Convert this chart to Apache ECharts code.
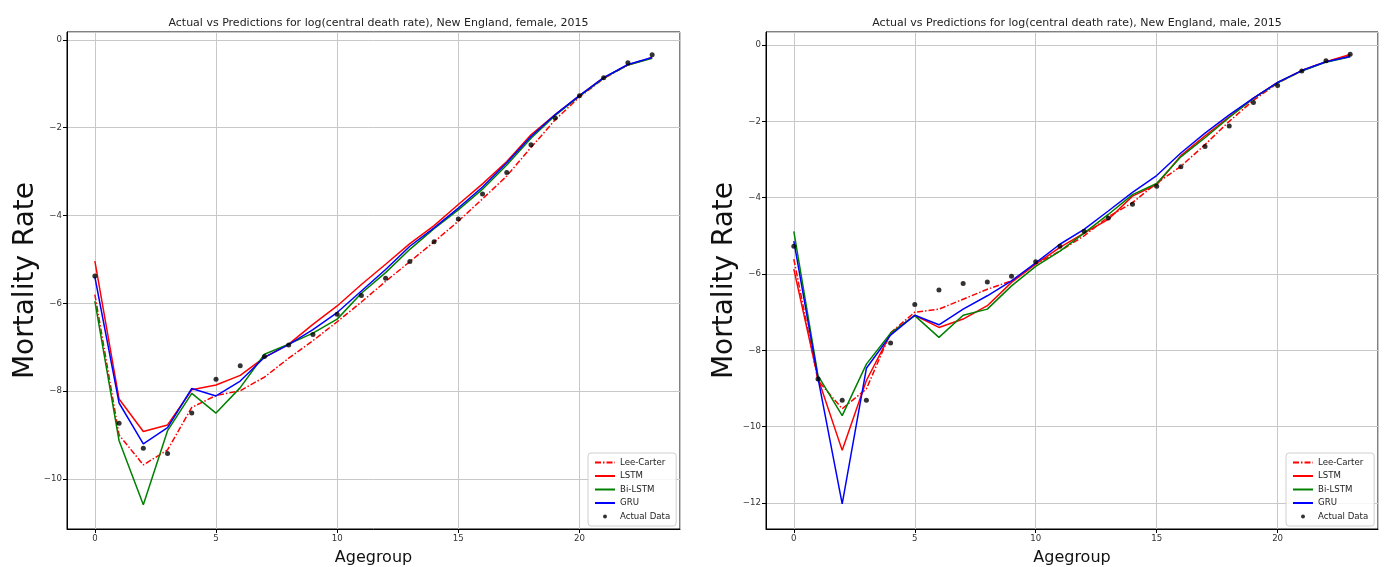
<!DOCTYPE html>
<html>
<head>
<meta charset="utf-8">
<script src="https://cdn.jsdelivr.net/npm/echarts@6/dist/echarts.min.js"></script>
<style>
  html, body { margin: 0; padding: 0; background: #fff; }
  #chart { width: 1386px; height: 567px; }
</style>
</head>
<body>
<div id="chart"></div>
<script>
// age groups 0..23
const ages = [0, 1, 2, 3, 4, 5, 6, 7, 8, 9, 10, 11, 12, 13, 14, 15, 16, 17, 18, 19, 20, 21, 22, 23]

// female
const femaleActual = [-5.38, -8.73, -9.30, -9.42, -8.50, -7.73, -7.42, -7.21, -6.95, -6.71, -6.25, -5.82, -5.43, -5.05, -4.60, -4.08, -3.51, -3.02, -2.39, -1.78, -1.27, -0.86, -0.52, -0.34]
const femaleLeeCarter = [-5.80, -9.00, -9.68, -9.34, -8.37, -8.10, -7.99, -7.68, -7.25, -6.85, -6.42, -5.97, -5.50, -5.05, -4.60, -4.13, -3.62, -3.10, -2.45, -1.82, -1.30, -0.88, -0.57, -0.40]
const femaleLSTM = [-5.04, -8.18, -8.92, -8.77, -7.97, -7.86, -7.64, -7.23, -6.93, -6.48, -6.06, -5.57, -5.11, -4.64, -4.23, -3.75, -3.28, -2.77, -2.16, -1.70, -1.27, -0.86, -0.57, -0.41]
const femaleBiLSTM = [-5.95, -9.13, -10.59, -8.90, -8.05, -8.50, -7.92, -7.16, -6.93, -6.68, -6.36, -5.77, -5.30, -4.77, -4.30, -3.87, -3.40, -2.85, -2.24, -1.72, -1.28, -0.87, -0.57, -0.42]
const femaleGRU = [-5.40, -8.27, -9.20, -8.83, -7.94, -8.11, -7.77, -7.23, -6.94, -6.60, -6.21, -5.72, -5.23, -4.70, -4.28, -3.83, -3.35, -2.80, -2.20, -1.70, -1.27, -0.86, -0.56, -0.40]

// male
const maleActual = [-5.27, -8.75, -9.31, -9.31, -7.81, -6.80, -6.42, -6.25, -6.21, -6.06, -5.68, -5.27, -4.88, -4.53, -4.17, -3.70, -3.19, -2.66, -2.12, -1.51, -1.06, -0.68, -0.41, -0.24]
const maleLeeCarter = [-5.61, -8.79, -9.53, -9.01, -7.54, -7.00, -6.92, -6.66, -6.40, -6.18, -5.74, -5.40, -5.00, -4.50, -4.13, -3.62, -3.18, -2.61, -2.00, -1.45, -1.00, -0.67, -0.44, -0.27]
const maleLSTM = [-5.87, -8.73, -10.62, -8.79, -7.57, -7.08, -7.40, -7.18, -6.83, -6.22, -5.74, -5.30, -4.93, -4.57, -3.96, -3.66, -2.90, -2.38, -1.88, -1.39, -0.98, -0.67, -0.44, -0.25]
const maleBiLSTM = [-4.88, -8.66, -9.71, -8.36, -7.55, -7.09, -7.66, -7.08, -6.92, -6.31, -5.80, -5.40, -4.93, -4.44, -3.92, -3.63, -2.93, -2.43, -1.90, -1.40, -0.99, -0.68, -0.45, -0.31]
const maleGRU = [-5.14, -8.73, -12.02, -8.47, -7.60, -7.08, -7.33, -6.92, -6.57, -6.18, -5.71, -5.22, -4.83, -4.35, -3.86, -3.42, -2.83, -2.31, -1.83, -1.39, -0.98, -0.67, -0.44, -0.30]

const titles = [
  'Actual vs Predictions for log(central death rate), New England, female, 2015',
  'Actual vs Predictions for log(central death rate), New England, male, 2015'
]
const seriesNames = ['Lee-Carter', 'LSTM', 'Bi-LSTM', 'GRU', 'Actual Data']

const FONT = 'DejaVu Sans'
const pair = (ys) => ages.map((a, i) => [a, ys[i]])
const minus = (v) => String(v).replace('-', '\u2212')
// small dot inside a 20x9 box, so the legend marker stays small
const dotIcon = 'path://M0,0M20,9M8,4.5a2,2 0 1,0 4,0a2,2 0 1,0 -4,0z'

const panels = [
  { left: 67, width: 613, yMin: -11.14, yMax: 0.18, nameGap: 20, data: [femaleLeeCarter, femaleLSTM, femaleBiLSTM, femaleGRU, femaleActual] },
  { left: 766, width: 612, yMin: -12.68, yMax: 0.34, nameGap: 24, data: [maleLeeCarter, maleLSTM, maleBiLSTM, maleGRU, maleActual] }
]

const grids = [], xAxes = [], yAxes = [], series = [], legends = [], titleList = []

panels.forEach((p, k) => {
  grids.push({
    left: p.left, top: 32, width: p.width, height: 497,
    outerBoundsMode: 'none', containLabel: false,
    show: true, borderColor: '#000', borderWidth: 1, backgroundColor: '#fff'
  })
  titleList.push({
    text: titles[k], left: p.left + p.width / 2, top: 13, textAlign: 'center',
    textStyle: { fontFamily: FONT, fontSize: 11, fontWeight: 'normal', color: '#222' }
  })
  xAxes.push({
    gridIndex: k, type: 'value', min: -1.15, max: 24.15, splitNumber: 5,
    name: 'Agegroup', nameLocation: 'middle', nameGap: 21,
    nameTextStyle: { fontFamily: FONT, fontSize: 16, color: '#111' },
    axisLine: { show: true, onZero: false, lineStyle: { color: '#000' } },
    axisTick: { show: true, length: 4, lineStyle: { color: '#000' } },
    axisLabel: { fontFamily: FONT, fontSize: 8.6, color: '#333', margin: 5, showMinLabel: false, showMaxLabel: false },
    splitLine: { show: true, lineStyle: { color: '#c8c8c8', width: 1 } }
  })
  yAxes.push({
    gridIndex: k, type: 'value', min: p.yMin, max: p.yMax, splitNumber: 6,
    name: 'Mortality Rate', nameLocation: 'middle', nameGap: p.nameGap,
    nameTextStyle: { fontFamily: FONT, fontSize: 28, color: '#111' },
    axisLine: { show: true, onZero: false, lineStyle: { color: '#000' } },
    axisTick: { show: true, length: 4, lineStyle: { color: '#000' } },
    axisLabel: { fontFamily: FONT, fontSize: 8.6, color: '#333', margin: 5, showMinLabel: false, showMaxLabel: false, formatter: minus },
    splitLine: { show: true, lineStyle: { color: '#c8c8c8', width: 1 } }
  })

  const styles = [
    { color: '#ff0000', type: [6, 2, 1.5, 2] },
    { color: '#ff0000', type: 'solid' },
    { color: '#008000', type: 'solid' },
    { color: '#0000ff', type: 'solid' }
  ]
  styles.forEach((s, j) => {
    series.push({
      name: seriesNames[j], type: 'line', xAxisIndex: k, yAxisIndex: k,
      data: pair(p.data[j]), symbol: 'none', z: 2 + j,
      itemStyle: { color: s.color },
      lineStyle: { color: s.color, width: 1.5, type: s.type }
    })
  })
  series.push({
    name: seriesNames[4], type: 'scatter', xAxisIndex: k, yAxisIndex: k,
    data: pair(p.data[4]), symbolSize: 5, z: 10,
    itemStyle: { color: '#000' }
  })

  legends.push({
    data: seriesNames.map((n, j) => j === 4
      ? { name: n, icon: dotIcon }
      : { name: n, itemStyle: { opacity: 0 } }),
    orient: 'vertical', left: p.left + p.width - 92, top: 453,
    itemWidth: 20, itemHeight: 9, itemGap: 4.5,
    padding: [5, 6, 5, 6],
    backgroundColor: 'rgba(255,255,255,0.85)', borderColor: '#d0d0d0', borderWidth: 1, borderRadius: 3,
    selectedMode: false,
    textStyle: { fontFamily: FONT, fontSize: 8.6, color: '#222' }
  })
})

const chart = echarts.init(document.getElementById('chart'))
chart.setOption({
  animation: false,
  backgroundColor: '#fff',
  title: titleList,
  grid: grids,
  xAxis: xAxes,
  yAxis: yAxes,
  legend: legends,
  series: series
})
</script>
</body>
</html>
